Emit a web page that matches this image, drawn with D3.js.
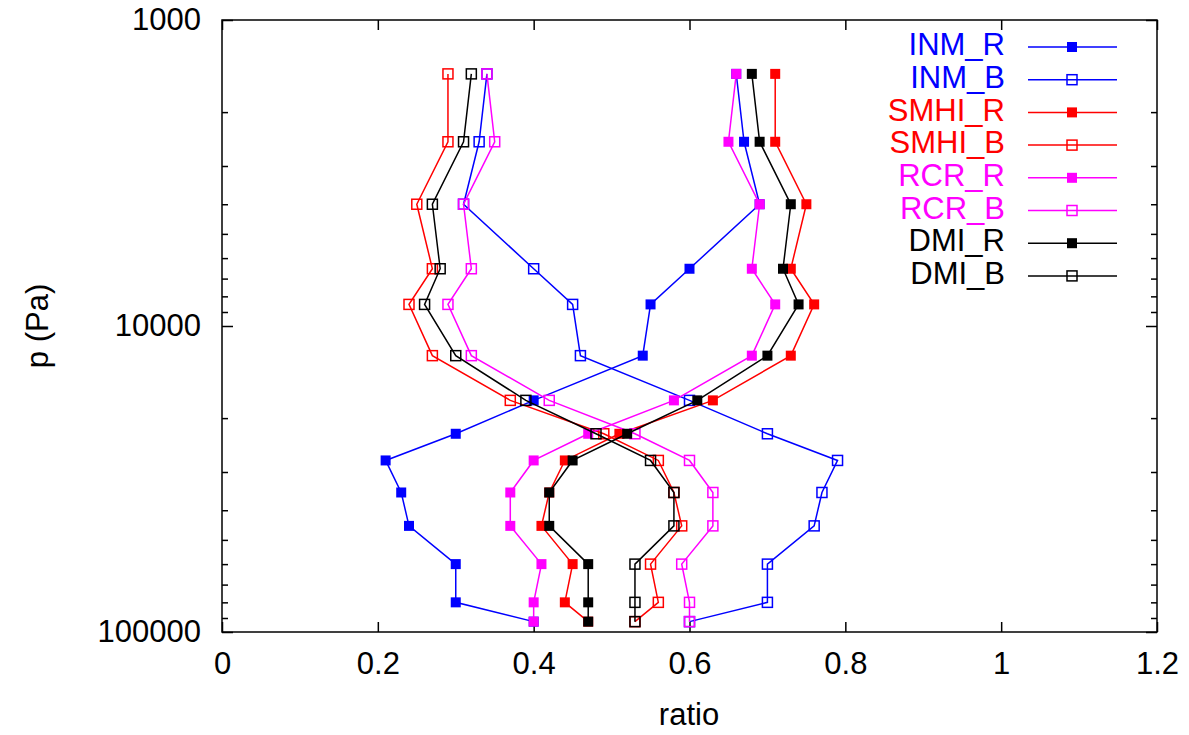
<!DOCTYPE html>
<html>
<head>
<meta charset="utf-8">
<script src="https://cdn.jsdelivr.net/npm/d3@7"></script>
<style>
  body { margin: 0; background: #fff; }
  text { font-family: "Liberation Sans", Arial, sans-serif; }
</style>
</head>
<body>
<script>
// pressure levels (Pa), top to bottom
var levels = [1500, 2500, 4000, 6500, 8500, 12500, 17500, 22500, 27500, 35000, 45000, 60000, 80000, 92500];

// ratio values per level
var inmR  = [0.66, 0.67, 0.69, 0.60, 0.55, 0.54, 0.40, 0.30, 0.21, 0.23, 0.24, 0.30, 0.30, 0.40];
var inmB  = [0.34, 0.33, 0.31, 0.40, 0.45, 0.46, 0.60, 0.70, 0.79, 0.77, 0.76, 0.70, 0.70, 0.60];
var smhiR = [0.71, 0.71, 0.75, 0.73, 0.76, 0.73, 0.63, 0.51, 0.44, 0.42, 0.41, 0.45, 0.44, 0.47];
var smhiB = [0.29, 0.29, 0.25, 0.27, 0.24, 0.27, 0.37, 0.49, 0.56, 0.58, 0.59, 0.55, 0.56, 0.53];
var rcrR  = [0.66, 0.65, 0.69, 0.68, 0.71, 0.68, 0.58, 0.47, 0.40, 0.37, 0.37, 0.41, 0.40, 0.40];
var rcrB  = [0.34, 0.35, 0.31, 0.32, 0.29, 0.32, 0.42, 0.53, 0.60, 0.63, 0.63, 0.59, 0.60, 0.60];
var dmiR  = [0.68, 0.69, 0.73, 0.72, 0.74, 0.70, 0.61, 0.52, 0.45, 0.42, 0.42, 0.47, 0.47, 0.47];
var dmiB  = [0.32, 0.31, 0.27, 0.28, 0.26, 0.30, 0.39, 0.48, 0.55, 0.58, 0.58, 0.53, 0.53, 0.53];

var seriesNames  = ["INM_R", "INM_B", "SMHI_R", "SMHI_B", "RCR_R", "RCR_B", "DMI_R", "DMI_B"];
var seriesColors = ["#0000ff", "#0000ff", "#ff0000", "#ff0000", "#ff00ff", "#ff00ff", "#000000", "#000000"];
var seriesFilled = [true, false, true, false, true, false, true, false];
var seriesValues = [inmR, inmB, smhiR, smhiB, rcrR, rcrB, dmiR, dmiB];

var xTicks = [0, 0.2, 0.4, 0.6, 0.8, 1, 1.2];
var yMajor = [1000, 10000, 100000];

var w = 1189, h = 735;
var pLeft = 222, pRight = 1157, pTop = 20, pBottom = 632;
var fs = 31;

var svg = d3.select("body").append("svg")
  .attr("width", w)
  .attr("height", h);

var x = d3.scaleLinear().domain([0, 1.2]).range([pLeft, pRight]);
var y = d3.scaleLog().domain([1000, 100000]).range([pTop, pBottom]);

// minor log ticks
var yMinor = [];
[1000, 10000].forEach(function(d) {
  for (var k = 2; k <= 9; k++) yMinor.push(d * k);
});

function styleAxis(g) {
  g.select(".domain").remove();
  g.selectAll("line").attr("stroke", "#000").attr("stroke-width", 1.5);
  g.selectAll("text").attr("font-size", fs).attr("fill", "#000")
    .attr("font-family", "Liberation Sans, Arial, sans-serif");
}

// bottom axis
svg.append("g").attr("transform", "translate(0," + pBottom + ")")
  .call(d3.axisBottom(x).tickValues(xTicks).tickSize(-10).tickPadding(20)
        .tickFormat(function(d) { return d3.format("")(d); }))
  .call(styleAxis);
// top axis (mirror)
svg.append("g").attr("transform", "translate(0," + pTop + ")")
  .call(d3.axisTop(x).tickValues(xTicks).tickSize(-10).tickFormat(""))
  .call(styleAxis);

// left axis
svg.append("g").attr("transform", "translate(" + pLeft + ",0)")
  .call(d3.axisLeft(y).tickValues(yMajor).tickSize(-11).tickPadding(21)
        .tickFormat(function(d) { return String(d); }))
  .call(styleAxis);
svg.append("g").attr("transform", "translate(" + pLeft + ",0)")
  .call(d3.axisLeft(y).tickValues(yMinor).tickSize(-6).tickFormat(""))
  .call(styleAxis);
// right axis (mirror)
svg.append("g").attr("transform", "translate(" + pRight + ",0)")
  .call(d3.axisRight(y).tickValues(yMajor).tickSize(-11).tickFormat(""))
  .call(styleAxis);
svg.append("g").attr("transform", "translate(" + pRight + ",0)")
  .call(d3.axisRight(y).tickValues(yMinor).tickSize(-6).tickFormat(""))
  .call(styleAxis);

// frame
svg.append("rect")
  .attr("x", pLeft).attr("y", pTop)
  .attr("width", pRight - pLeft).attr("height", pBottom - pTop)
  .attr("fill", "none").attr("stroke", "#000").attr("stroke-width", 1.5);

// axis titles
svg.append("text")
  .attr("x", 689).attr("y", 717)
  .attr("text-anchor", "middle").attr("dominant-baseline", "middle")
  .attr("font-size", fs).text("ratio");
svg.append("text")
  .attr("transform", "translate(40," + (pTop + pBottom) / 2 + ") rotate(-90)")
  .attr("text-anchor", "middle").attr("dominant-baseline", "middle")
  .attr("font-size", fs).text("p (Pa)");

var line = d3.line()
  .x(function(d) { return x(d[0]); })
  .y(function(d) { return y(d[1]); });

var ms = 10; // marker size

function drawMarker(g, cx, cy, color, filled) {
  g.append("rect")
    .attr("x", cx - ms / 2).attr("y", cy - ms / 2)
    .attr("width", ms).attr("height", ms)
    .attr("fill", filled ? color : "none")
    .attr("stroke", color)
    .attr("stroke-width", filled ? 0 : 1.5);
}

seriesNames.forEach(function(name, i) {
  var pts = seriesValues[i].map(function(v, j) { return [v, levels[j]]; });
  var g = svg.append("g").attr("class", "series");
  g.append("path")
    .datum(pts)
    .attr("d", line)
    .attr("fill", "none")
    .attr("stroke", seriesColors[i])
    .attr("stroke-width", 1.5);
  pts.forEach(function(p) {
    drawMarker(g, x(p[0]), y(p[1]), seriesColors[i], seriesFilled[i]);
  });
});

// legend
var legX = 1005, legY0 = 47, legDy = 32.7;
seriesNames.forEach(function(name, i) {
  var ly = legY0 + i * legDy;
  var g = svg.append("g").attr("class", "legend");
  g.append("text")
    .attr("x", legX).attr("y", ly)
    .attr("text-anchor", "end").attr("dominant-baseline", "middle")
    .attr("font-size", fs).attr("fill", seriesColors[i])
    .text(name);
  g.append("line")
    .attr("x1", 1028).attr("x2", 1117)
    .attr("y1", ly).attr("y2", ly)
    .attr("stroke", seriesColors[i]).attr("stroke-width", 1.5);
  drawMarker(g, 1072, ly, seriesColors[i], seriesFilled[i]);
});
</script>
</body>
</html>
